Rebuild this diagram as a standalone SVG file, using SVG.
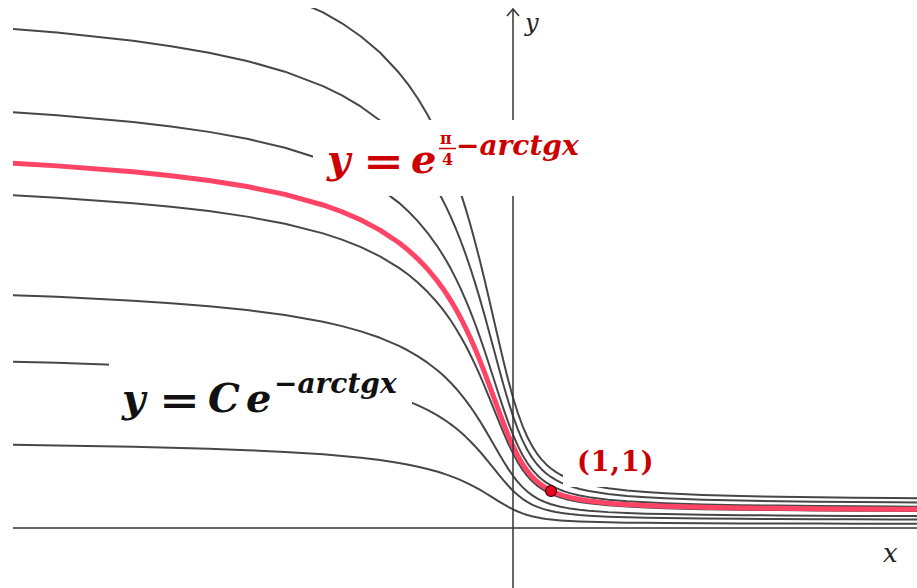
<svg xmlns="http://www.w3.org/2000/svg" xmlns:xlink="http://www.w3.org/1999/xlink" width="917" height="588" viewBox="0 0 917 588">
<style>
.gc{fill:none;stroke:#474747;stroke-width:2;stroke-linejoin:round}
.rc{fill:none;stroke:#ff4466;stroke-width:5;stroke-linejoin:round}
.ax{fill:none;stroke:#333333;stroke-width:1.5}
.bg{fill:#ffffff}
.m{font-family:"DejaVu Serif",serif;font-weight:bold;font-style:italic}
.u{font-family:"DejaVu Serif",serif;font-weight:bold}
.red{fill:#cc0000}
.blk{fill:#111111}
.axl{font-family:"DejaVu Serif",serif;font-style:italic;fill:#222222}
</style>
<defs>
<path id="f" vector-effect="non-scaling-stroke" d="M-13.2,4.460 L-12,4.427 L-10,4.354 L-9,4.306 L-8,4.248 L-7,4.174 L-6,4.078 L-5,3.949 L-4.5,3.866 L-4,3.765 L-3.5,3.642 L-3,3.487 L-2.75,3.394 L-2.5,3.288 L-2.25,3.166 L-2,3.026 L-1.875,2.947 L-1.75,2.863 L-1.625,2.771 L-1.5,2.672 L-1.375,2.565 L-1.25,2.450 L-1.125,2.326 L-1,2.193 L-0.875,2.052 L-0.75,1.903 L-0.625,1.748 L-0.5,1.590 L-0.375,1.432 L-0.25,1.278 L-0.125,1.132 L0,1 L0.125,0.883 L0.25,0.783 L0.375,0.699 L0.5,0.629 L0.625,0.572 L0.75,0.526 L0.875,0.487 L1,0.456 L1.125,0.430 L1.25,0.408 L1.375,0.390 L1.5,0.374 L1.75,0.349 L2,0.331 L2.5,0.304 L3,0.287 L3.5,0.275 L4,0.266 L5,0.253 L6,0.245 L7,0.240 L8,0.235 L9,0.232 L10,0.230 L10.7,0.228"/>
<clipPath id="plot"><rect x="13" y="8" width="904" height="580"/></clipPath>
</defs>
<rect x="0" y="0" width="917" height="588" fill="#ffffff"/>
<g id="curves" clip-path="url(#plot)">
<use xlink:href="#f" class="gc" transform="translate(513,528) scale(38,-18.65)"/>
<use xlink:href="#f" class="gc" transform="translate(513,528) scale(38,-37.3)"/>
<use xlink:href="#f" class="gc" transform="translate(513,528) scale(38,-52.22)"/>
<use xlink:href="#f" class="gc" transform="translate(513,528) scale(38,-74.6)"/>
<use xlink:href="#f" class="gc" transform="translate(513,528) scale(38,-93.25)"/>
<use xlink:href="#f" class="gc" transform="translate(513,528) scale(38,-111.9)"/>
<use xlink:href="#f" class="gc" transform="translate(513,528) scale(38,-130.55)"/>
<use id="red-curve" xlink:href="#f" class="rc" transform="translate(513,528) scale(38,-81.8)"/>
</g>
<g id="axes">
<line class="ax" x1="13" y1="528" x2="917" y2="528"/>
<line class="ax" x1="513" y1="588" x2="513" y2="9"/>
<polyline class="ax" points="507,16 513,9 519,16"/>
<text class="axl" x="525" y="31" font-size="24">y</text>
<text class="axl" x="883" y="562" font-size="26">x</text>
</g>
<g id="point">
<circle cx="551" cy="491" r="5.5" fill="#ee0022" stroke="#330000" stroke-width="1.2"/>
</g>
<g id="label-red">
<rect class="bg" x="313" y="120" width="280" height="76"/>
<text class="m red" x="327" y="173" font-size="40">y</text>
<text class="u red" x="363" y="175" font-size="40" textLength="41" lengthAdjust="spacingAndGlyphs">=</text>
<text class="m red" x="411" y="173" font-size="40">e</text>
<text class="u red" x="440" y="144" font-size="16">π</text>
<line x1="439" y1="148.5" x2="456" y2="148.5" stroke="#cc0000" stroke-width="1.5"/>
<text class="u red" x="442" y="165" font-size="16">4</text>
<text class="m red" x="456" y="155" font-size="28">−arctgx</text>
</g>
<g id="label-black">
<rect class="bg" x="109" y="358" width="303" height="70"/>
<text class="m blk" x="122" y="412" font-size="40">y</text>
<text class="u blk" x="159" y="414" font-size="40" textLength="41" lengthAdjust="spacingAndGlyphs">=</text>
<text class="m blk" x="208" y="412" font-size="40">C</text>
<text class="m blk" x="246" y="412" font-size="40">e</text>
<text class="m blk" x="274" y="393" font-size="28">−arctgx</text>
</g>
<g id="label-point">
<rect class="bg" x="563" y="430" width="100" height="57"/>
<text class="u red" x="577" y="471" font-size="27" letter-spacing="1">(1,1)</text>
</g>
</svg>
